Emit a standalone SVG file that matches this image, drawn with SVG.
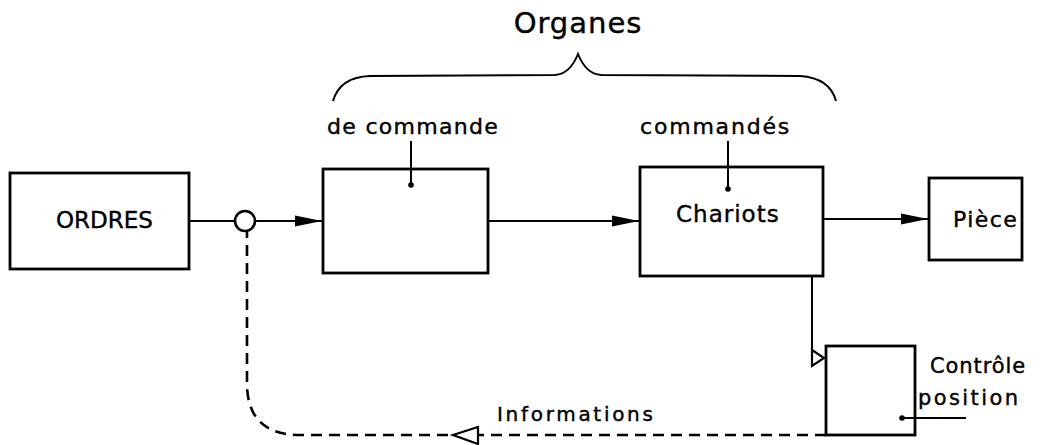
<svg xmlns="http://www.w3.org/2000/svg" width="1044" height="445" viewBox="0 0 1044 445">
<style>
.box{fill:none;stroke:#000;stroke-width:2.8}
.ln{fill:none;stroke:#000;stroke-width:2}
.dash{fill:none;stroke:#000;stroke-width:2.6;stroke-dasharray:11 7}
.t{font-family:"DejaVu Sans","Liberation Sans",sans-serif;font-size:22px;fill:#000;stroke:#000;stroke-width:0.4}
.big{font-size:29px;letter-spacing:1px}
</style>
<defs>
<marker id="fa" markerWidth="28" markerHeight="14" refX="27" refY="7" orient="auto" markerUnits="userSpaceOnUse">
<path d="M0,1.5 L27,7 L0,12.5 Z" fill="#000"/>
</marker>
</defs>
<rect width="1044" height="445" fill="#fff"/>
<g id="brace">
<path class="ln" d="M333,101 Q340,77 370,76 L555,75 Q570,74 578,54 Q586,74 601,75 L800,76 Q830,78 836,101"/>
<text class="t big" x="578" y="33" text-anchor="middle">Organes</text>
</g>
<g id="ordres">
<rect class="box" x="10" y="173" width="179" height="96"/>
<text class="t" x="56" y="228" style="font-size:23px">ORDRES</text>
</g>
<g id="commande">
<rect class="box" x="323" y="169" width="165" height="104"/>
<text class="t" x="327" y="134" style="letter-spacing:1.3px">de commande</text>
<line class="ln" x1="411" y1="141" x2="411" y2="184"/>
<circle cx="411" cy="185" r="2.8"/>
</g>
<g id="chariots">
<rect class="box" x="640" y="167" width="183" height="109"/>
<text class="t" x="640" y="134" style="letter-spacing:1.8px">commandés</text>
<line class="ln" x1="728" y1="141" x2="728" y2="188"/>
<circle cx="728" cy="189" r="2.8"/>
<text class="t" x="676" y="222" style="font-size:23px;letter-spacing:1px">Chariots</text>
</g>
<g id="piece">
<rect class="box" x="929" y="178" width="93" height="82"/>
<text class="t" x="953" y="227" style="letter-spacing:1.4px">Pièce</text>
</g>
<g id="controle">
<rect class="box" x="826" y="346" width="89" height="89"/>
<text class="t" x="930" y="373" style="font-size:21px;letter-spacing:0.9px">Contrôle</text>
<text class="t" x="918" y="405" style="font-size:21px;letter-spacing:2.4px">position</text>
<line class="ln" x1="902" y1="418" x2="966" y2="418"/>
<circle cx="902" cy="418" r="2.8"/>
</g>
<g id="comparator">
<circle cx="245" cy="221" r="10" fill="#fff" stroke="#000" stroke-width="2.6"/>
</g>
<g id="connectors">
<line class="ln" x1="189" y1="221" x2="235" y2="221"/>
<line class="ln" x1="255" y1="221" x2="322" y2="221" marker-end="url(#fa)"/>
<line class="ln" x1="488" y1="221" x2="639" y2="221" marker-end="url(#fa)"/>
<line class="ln" x1="823" y1="219" x2="928" y2="219" marker-end="url(#fa)"/>
<polyline class="ln" points="812,276 812,352"/>
<polygon points="812,350 824,358 812,366" fill="#fff" stroke="#000" stroke-width="2.2"/>
<path class="dash" d="M826,435 L300,435 Q247,435 247,383 L247,232"/>
<polygon points="453,435 478,427 478,444" fill="#fff" stroke="#000" stroke-width="2.2"/>
<text class="t" x="497" y="421" style="font-size:20px;letter-spacing:2.7px">Informations</text>
</g>
</svg>
